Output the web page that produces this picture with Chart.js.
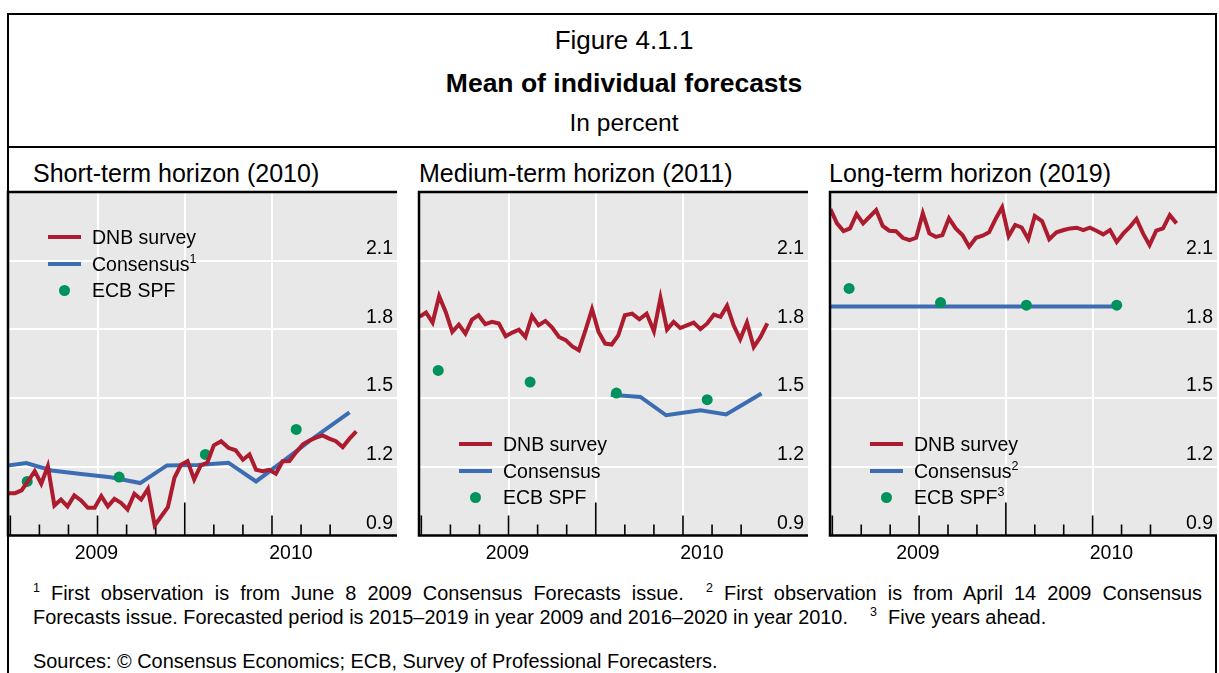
<!DOCTYPE html>
<html><head><meta charset="utf-8">
<script src="https://cdn.jsdelivr.net/npm/chart.js@4.4.1/dist/chart.umd.min.js"></script>
<style>
html,body{margin:0;padding:0;background:#fff;}
body{width:1219px;height:673px;overflow:hidden;position:relative;font-family:'Liberation Sans',Arial,Helvetica,sans-serif;color:#000;}
.abs{position:absolute;white-space:nowrap;}
.rule{position:absolute;background:#000;}
.sup{font-size:12.5px;position:relative;top:-8px;}
canvas{position:absolute;}
.leg{position:absolute;font-size:19.5px;line-height:22px;white-space:nowrap;}
.legline{position:absolute;height:4px;}
.legdot{position:absolute;width:11px;height:11px;border-radius:50%;}
.foot{position:absolute;left:33px;width:1169px;font-size:19.9px;line-height:24px;white-space:nowrap;}
</style></head><body>
<div class="rule" style="left:7px;top:13px;width:2px;height:660px"></div>
<div class="rule" style="left:1215px;top:13px;width:2px;height:660px"></div>
<div class="rule" style="left:7px;top:13px;width:1210px;height:2px"></div>
<div class="rule" style="left:7px;top:146px;width:1210px;height:2px"></div>
<div class="abs" style="left:0;width:1248px;text-align:center;top:25px;font-size:26px;line-height:30px">Figure 4.1.1</div>
<div class="abs" style="left:0;width:1248px;text-align:center;top:68px;font-size:26.5px;line-height:30px;font-weight:bold">Mean of individual forecasts</div>
<div class="abs" style="left:0;width:1248px;text-align:center;top:108px;font-size:24.5px;line-height:30px">In percent</div>
<div class="foot" style="top:581px;white-space:normal;text-align:justify;text-align-last:justify;height:24px;overflow:hidden"><span class="sup">1</span> First observation is from June 8 2009 Consensus Forecasts issue.&nbsp; <span class="sup">2</span> First observation is from April 14 2009 Consensus</div>
<div class="foot" style="top:605px">Forecasts issue. Forecasted period is 2015–2019 in year 2009 and 2016–2020 in year 2010.&nbsp;&nbsp;&nbsp; <span class="sup">3</span>&nbsp; Five years ahead.</div>
<div class="foot" style="top:649px">Sources: © Consensus Economics; ECB, Survey of Professional Forecasters.</div>
<script>
// ---------- data ----------
const seriesNames = ['DNB survey', 'Consensus', 'ECB SPF'];
const yearLabels = ['2009', '2010'];
const yTickValues = [0.9, 1.2, 1.5, 1.8, 2.1];

// DNB survey: weekly, first week 2009-06-29, 53 observations
const dnbFirstWeek = '2009-06-29';
const dnbShort = [1.085,1.085,1.097,1.138,1.181,1.126,1.203,1.031,1.057,1.027,
  1.075,1.053,1.021,1.021,1.072,1.027,1.060,1.043,1.014,1.082,
  1.057,1.104,0.944,0.984,1.024,1.152,1.209,1.225,1.145,1.206,
  1.218,1.294,1.312,1.283,1.272,1.231,1.254,1.187,1.181,1.187,
  1.170,1.224,1.225,1.264,1.298,1.315,1.327,1.337,1.323,1.312,
  1.286,1.323,1.355];
const dnbMedium = [1.855,1.874,1.830,1.945,1.876,1.789,1.821,1.782,1.843,1.862,
  1.823,1.833,1.826,1.770,1.786,1.799,1.767,1.859,1.818,1.837,
  1.808,1.767,1.753,1.726,1.709,1.796,1.888,1.789,1.738,1.734,
  1.774,1.862,1.869,1.844,1.869,1.792,1.938,1.799,1.833,1.806,
  1.818,1.830,1.801,1.826,1.865,1.855,1.903,1.818,1.757,1.830,
  1.723,1.767,1.826];
const dnbLong = [2.325,2.263,2.229,2.241,2.304,2.263,2.292,2.321,2.252,2.231,
  2.229,2.200,2.190,2.200,2.307,2.219,2.204,2.212,2.285,2.241,
  2.212,2.161,2.200,2.209,2.224,2.282,2.333,2.207,2.256,2.245,
  2.194,2.295,2.273,2.194,2.224,2.234,2.241,2.244,2.234,2.244,
  2.231,2.215,2.234,2.182,2.219,2.248,2.282,2.219,2.168,2.231,
  2.241,2.299,2.263];

// Consensus Forecasts
const consShortDates = ['2009-06-08','2009-07-18','2009-08-14','2009-09-14','2009-10-15','2009-11-15','2009-12-13','2010-01-15','2010-02-15','2010-03-15','2010-04-15','2010-05-15','2010-06-21'];
const consShort = [1.195,1.216,1.184,1.169,1.154,1.129,1.206,1.208,1.218,1.136,1.232,1.328,1.438];
const consMediumDates = ['2010-01-17','2010-02-16','2010-03-14','2010-04-19','2010-05-16','2010-06-22'];
const consMedium = [1.515,1.505,1.425,1.447,1.429,1.520];
const consLongDates = ['2009-04-14','2009-10-12','2010-04-26'];
const consLong = [1.90,1.90,1.90];

// ECB Survey of Professional Forecasters
const spfDates = ['2009-07-19','2009-10-24','2010-01-23','2010-04-26'];
const spfShort = [1.136,1.155,1.254,1.363];
const spfMedium = [1.621,1.570,1.522,1.493];
const spfLong = [1.979,1.917,1.906,1.906];

// ---------- helpers ----------
// months since 1 July 2009
function monthUnits(s){
  const [y,m,d] = s.split('-').map(Number);
  const dim = new Date(Date.UTC(y, m, 0)).getUTCDate();
  return (y-2009)*12 + (m-7) + (d-1)/dim;
}
function weekly(start, n){
  const [y,m,d] = start.split('-').map(Number);
  const out = [];
  for (let i=0;i<n;i++){ out.push(new Date(Date.UTC(y, m-1, d+7*i)).toISOString().slice(0,10)); }
  return out;
}
function pts(dates, vals){ return vals.map((v,i)=>({x: monthUnits(dates[i]), y: v})); }

const X_MIN = -0.08, X_MAX = 13.3;
const yearBoundary = monthUnits('2010-01-01');
const monthTicks = [];
for (let i=0;i<12;i++){ const y = 2009 + Math.floor((6+i)/12); const m = ((6+i)%12)+1; monthTicks.push({v: monthUnits(y+'-'+String(m).padStart(2,'0')+'-01'), m}); }
const quarterLines = monthTicks.filter(t => (t.m-1)%3===0 && t.m!==7).map(t=>t.v);

const RED='#ad1b2e', BLUE='#3c6db3', GREEN='#00925c', BG='#e8e8e8';
const FONT="'Liberation Sans', Arial, sans-serif";
Chart.defaults.font.family = FONT;
Chart.defaults.color = '#000';

const decor = {
  id:'decor',
  beforeDraw(chart){
    const {ctx, chartArea:a} = chart;
    ctx.save(); ctx.fillStyle = BG; ctx.fillRect(a.left, a.top, a.right-a.left, a.bottom-a.top); ctx.restore();
  },
  beforeDatasetsDraw(chart){
    const {ctx, chartArea:a, scales:{x}} = chart;
    ctx.save(); ctx.strokeStyle='#000'; ctx.lineWidth=1.6;
    monthTicks.forEach(t=>{
      const px = x.getPixelForValue(t.v);
      const len = t.m===1 ? 33 : ((t.m-1)%3===0 ? 20 : 11);
      ctx.beginPath(); ctx.moveTo(px, a.bottom); ctx.lineTo(px, a.bottom-len); ctx.stroke();
    });
    ctx.restore();
  },
  afterDatasetsDraw(chart){
    const {ctx, chartArea:a} = chart;
    ctx.save(); ctx.strokeStyle='#000'; ctx.lineWidth=2.5;
    ctx.beginPath();
    ctx.moveTo(a.left, a.bottom); ctx.lineTo(a.left, a.top-1.25);
    ctx.moveTo(a.left-1.25, a.top); ctx.lineTo(a.right, a.top);
    ctx.moveTo(a.left-1.25, a.bottom); ctx.lineTo(a.right, a.bottom);
    ctx.stroke(); ctx.restore();
  }
};

const dnbDates = weekly(dnbFirstWeek, 53);

const panels = [
  {left:8, width:389, title:'Short-term horizon (2010)', titleLeft:33, dnb:dnbShort, consD:consShortDates, cons:consShort, spf:spfShort, legTop:237, legLeft:48, sups:['','1','']},
  {left:419, width:389, title:'Medium-term horizon (2011)', titleLeft:419, dnb:dnbMedium, consD:consMediumDates, cons:consMedium, spf:spfMedium, legTop:444, legLeft:459, sups:['','','']},
  {left:830, width:387, title:'Long-term horizon (2019)', titleLeft:829, dnb:dnbLong, consD:consLongDates, cons:consLong, spf:spfLong, legTop:444, legLeft:870, sups:['','2','3']}
];

panels.forEach((p, k)=>{
  const t = document.createElement('div');
  t.className='abs'; t.style.cssText = `left:${p.titleLeft}px;top:158px;font-size:25px;line-height:30px`;
  t.textContent = p.title; document.body.appendChild(t);

  const cv = document.createElement('canvas');
  cv.width = p.width+2; cv.height = 380;
  cv.style.left = (p.left-2)+'px'; cv.style.top = '190px';
  document.body.appendChild(cv);

  new Chart(cv, {
    type:'line',
    data:{ datasets:[
      {label:seriesNames[0], data:pts(dnbDates, p.dnb), borderColor:RED, borderWidth:4, pointRadius:0, tension:0, clip:0},
      {label:seriesNames[2], type:'scatter', data:pts(spfDates, p.spf), backgroundColor:GREEN, borderWidth:0, pointRadius:5.5, showLine:false},
      {label:seriesNames[1], data:pts(p.consD, p.cons), borderColor:BLUE, borderWidth:4, pointRadius:0, tension:0, clip:0}
    ]},
    options:{
      responsive:false, animation:false, devicePixelRatio:1,
      layout:{padding:{top:2,left:2,right:0,bottom:0}, autoPadding:false},
      plugins:{legend:{display:false}, tooltip:{enabled:false}},
      scales:{
        x:{type:'linear', min:X_MIN, max:X_MAX, position:'bottom',
           afterBuildTicks:s=>{ s.ticks = quarterLines.map(v=>({value:v})); },
           ticks:{display:false}, grid:{color:'#ffffff', lineWidth:2, drawTicks:false}, border:{display:false}},
        xl:{type:'linear', min:X_MIN, max:X_MAX, position:'bottom',
           afterBuildTicks:s=>{ s.ticks = [{value:(X_MIN+yearBoundary)/2},{value:(yearBoundary+X_MAX)/2}]; },
           ticks:{callback:(v,i)=>yearLabels[i], font:{size:19.5}, color:'#000', padding:6, maxRotation:0, autoSkip:false},
           grid:{display:false, drawTicks:false}, border:{display:false},
           afterFit:s=>{ s.height = 34.5; s.paddingLeft=0; s.paddingRight=0; }},
        y:{type:'linear', min:0.9, max:2.4, position:'right',
           afterBuildTicks:s=>{ s.ticks = yTickValues.map(v=>({value:v})); },
           ticks:{mirror:true, padding:-4, labelOffset:-12, callback:v=>Number(v).toFixed(1), font:{size:19.5}, color:'#000'},
           grid:{color:c=> (c.tick && c.tick.value>0.95) ? '#ffffff' : 'rgba(0,0,0,0)', lineWidth:2, drawTicks:false},
           border:{display:false},
           afterFit:s=>{ s.width=0; s.paddingTop=0; s.paddingBottom=0; }}
      }
    },
    plugins:[decor]
  });

  // legend (HTML text)
  const colors = [RED, BLUE, GREEN];
  [0,1,2].forEach(r=>{
    const cy = p.legTop + r*26.5;
    if (r<2){
      const l = document.createElement('div'); l.className='legline';
      l.style.cssText = `left:${p.legLeft}px;top:${cy-2}px;width:33px;background:${colors[r]}`;
      document.body.appendChild(l);
    } else {
      const d = document.createElement('div'); d.className='legdot';
      d.style.cssText = `left:${p.legLeft+16-5.5}px;top:${cy-5.5}px;background:${GREEN}`;
      document.body.appendChild(d);
    }
    const tx = document.createElement('div'); tx.className='leg';
    tx.style.left = (p.legLeft+44)+'px'; tx.style.top = (cy-11)+'px';
    tx.textContent = seriesNames[r];
    if (p.sups[r]){ const s=document.createElement('span'); s.className='sup'; s.textContent=p.sups[r]; tx.appendChild(s); }
    document.body.appendChild(tx);
  });
});
</script>
</body></html>
